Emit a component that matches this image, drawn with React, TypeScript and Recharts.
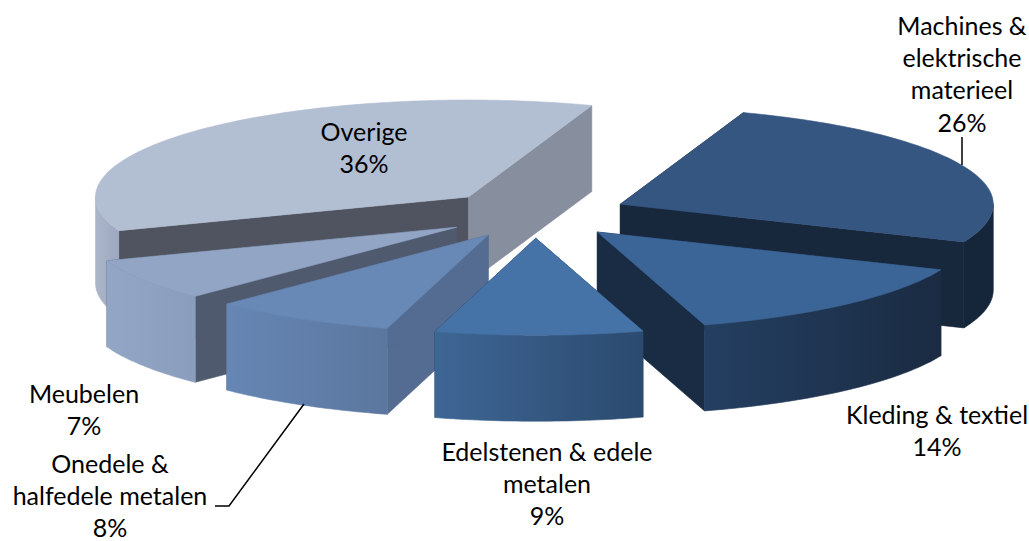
import React from 'react';
import { Pie, PieChart } from 'recharts';

const categories = [
  'Machines & elektrische materieel',
  'Kleding & textiel',
  'Edelstenen & edele metalen',
  'Overige',
  'Meubelen',
  'Onedele & halfedele metalen',
];
const shares = [26, 14, 9, 36, 7, 8];

// Line breaks of each label, same order as categories
const labelLines = [
  ['Machines &', 'elektrische', 'materieel'],
  ['Kleding & textiel'],
  ['Edelstenen & edele', 'metalen'],
  ['Overige'],
  ['Meubelen'],
  ['Onedele &', 'halfedele metalen'],
];

const labelPos = [
  { x: 962, y: 25 },
  { x: 937, y: 414 },
  { x: 547, y: 451 },
  { x: 364, y: 131 },
  { x: 84, y: 393 },
  { x: 110, y: 463 },
];

const leaders: Record<number, string> = {
  0: 'M962 137 V165',
  5: 'M304 404 L229 506 H215',
};

const topColors = ['#355681', '#3c6597', '#4573a8', '#b2bed2', '#92a5c4', '#6888b5'];
const sideFrom = ['#16263a', '#243f61', '#3e6695', '#acb6ca', '#94a6c5', '#6686b3'];
const sideTo = ['#16263a', '#1a2b42', '#2b4a6e', '#9ca8c0', '#8a9dbd', '#5b779f'];
const startWalls = ['#16263a', '#1a2c44', '#1a2c44', '#4f5460', '#505a6e', '#546c91'];
const endWalls = ['#17273c', '#1a2c44', '#1a2c44', '#878f9e', '#505a6e', '#546c91'];

const CHART_W = 1029;
const CHART_H = 541;
const CENTER_X = 535;
const CENTER_Y = 214;
const RADIUS = 373;
const SQUASH = 0.26; // vertical foreshortening of the tilted disc
const EXPLODE = 0.25; // slice offset, as a fraction of the radius
const DEPTH = 86;
const START_ANGLE = 70.7;

const rows = categories.map((name, i) => ({ name, value: shares[i], idx: i }));
const rightRows = rows.slice(0, 3);
const leftRows = rows.slice(3);
const sweep = (list: typeof rows) => list.reduce((sum, r) => sum + r.value, 0) * 3.6;

const rad = (deg: number) => (deg * Math.PI) / 180;

const Slice3D = (props: any) => {
  const { cx, cy, outerRadius, startAngle, endAngle, midAngle, payload } = props;
  const idx: number = payload.idx;
  const hi = Math.max(startAngle, endAngle);
  const lo = Math.min(startAngle, endAngle);
  const ox = cx + EXPLODE * outerRadius * Math.cos(rad(midAngle));
  const oy = cy - EXPLODE * outerRadius * SQUASH * Math.sin(rad(midAngle));
  const pt = (a: number): [number, number] => [
    ox + outerRadius * Math.cos(rad(a)),
    oy - outerRadius * SQUASH * Math.sin(rad(a)),
  ];
  const arc = (from: number, to: number) => {
    const out: [number, number][] = [];
    const n = Math.max(1, Math.ceil(Math.abs(to - from)));
    for (let i = 0; i <= n; i++) out.push(pt(from + ((to - from) * i) / n));
    return out;
  };
  const toPath = (p: [number, number][]) =>
    'M' + p.map(([x, y]) => `${x.toFixed(1)} ${y.toFixed(1)}`).join(' L') + ' Z';
  const drop = (p: [number, number][]) =>
    p.map(([x, y]) => [x, y + DEPTH] as [number, number]);
  const wall = (a: number) => {
    const e = pt(a);
    return toPath([[ox, oy], e, [e[0], e[1] + DEPTH], [ox, oy + DEPTH]]);
  };

  // only the part of the rim facing the viewer (lower half of the ellipse)
  const facing: [number, number][][] = [];
  const addFacing = (a: number, b: number) => {
    const from = Math.max(a, lo);
    const to = Math.min(b, hi);
    if (to > from) facing.push(arc(from, to));
  };
  addFacing(-360, 0);
  addFacing(180, 360);

  const gradId = `rim-${idx}`;
  return (
    <g strokeWidth={0.6}>
      <defs>
        <linearGradient id={gradId} x1="0" y1="0" x2="1" y2="0">
          <stop offset="0%" stopColor={sideFrom[idx]} />
          <stop offset="100%" stopColor={sideTo[idx]} />
        </linearGradient>
      </defs>
      <path d={wall(hi)} fill={startWalls[idx]} stroke={startWalls[idx]} />
      <path d={wall(lo)} fill={endWalls[idx]} stroke={endWalls[idx]} />
      {facing.map((rim, k) => (
        <path
          key={k}
          d={toPath([...rim, ...drop(rim).reverse()])}
          fill={`url(#${gradId})`}
          stroke={`url(#${gradId})`}
        />
      ))}
      <path d={toPath([[ox, oy], ...arc(hi, lo)])} fill={topColors[idx]} stroke={topColors[idx]} />
    </g>
  );
};

const SliceLabel = (props: any) => {
  const idx: number = props.payload ? props.payload.idx : props.idx;
  const lines = [...labelLines[idx], `${shares[idx]}%`];
  const { x, y } = labelPos[idx];
  return (
    <g>
      {leaders[idx] && <path d={leaders[idx]} fill="none" stroke="#000" strokeWidth={1.5} />}
      <text
        x={x}
        y={y}
        textAnchor="middle"
        fontFamily="Lato, sans-serif"
        fontSize={25}
        fill="#000"
      >
        {lines.map((line, k) => (
          <tspan key={k} x={x} y={y + k * 32.2} dominantBaseline="central">
            {line}
          </tspan>
        ))}
      </text>
    </g>
  );
};

export default function App() {
  return (
    <div style={{ position: 'absolute', left: 0, top: 0, width: CHART_W, height: CHART_H, background: '#fff' }}>
      <PieChart width={CHART_W} height={CHART_H} margin={{ top: 0, right: 0, bottom: 0, left: 0 }}>
        {/* far slices first, so the near ones paint over them */}
        <Pie
          data={leftRows}
          dataKey="value"
          nameKey="name"
          cx={CENTER_X}
          cy={CENTER_Y}
          outerRadius={RADIUS}
          startAngle={START_ANGLE}
          endAngle={START_ANGLE + sweep(leftRows)}
          stroke="none"
          shape={Slice3D}
          label={SliceLabel}
          labelLine={false}
          isAnimationActive={false}
        />
        <Pie
          data={rightRows}
          dataKey="value"
          nameKey="name"
          cx={CENTER_X}
          cy={CENTER_Y}
          outerRadius={RADIUS}
          startAngle={START_ANGLE}
          endAngle={START_ANGLE - sweep(rightRows)}
          stroke="none"
          shape={Slice3D}
          label={SliceLabel}
          labelLine={false}
          isAnimationActive={false}
        />
      </PieChart>
    </div>
  );
}
